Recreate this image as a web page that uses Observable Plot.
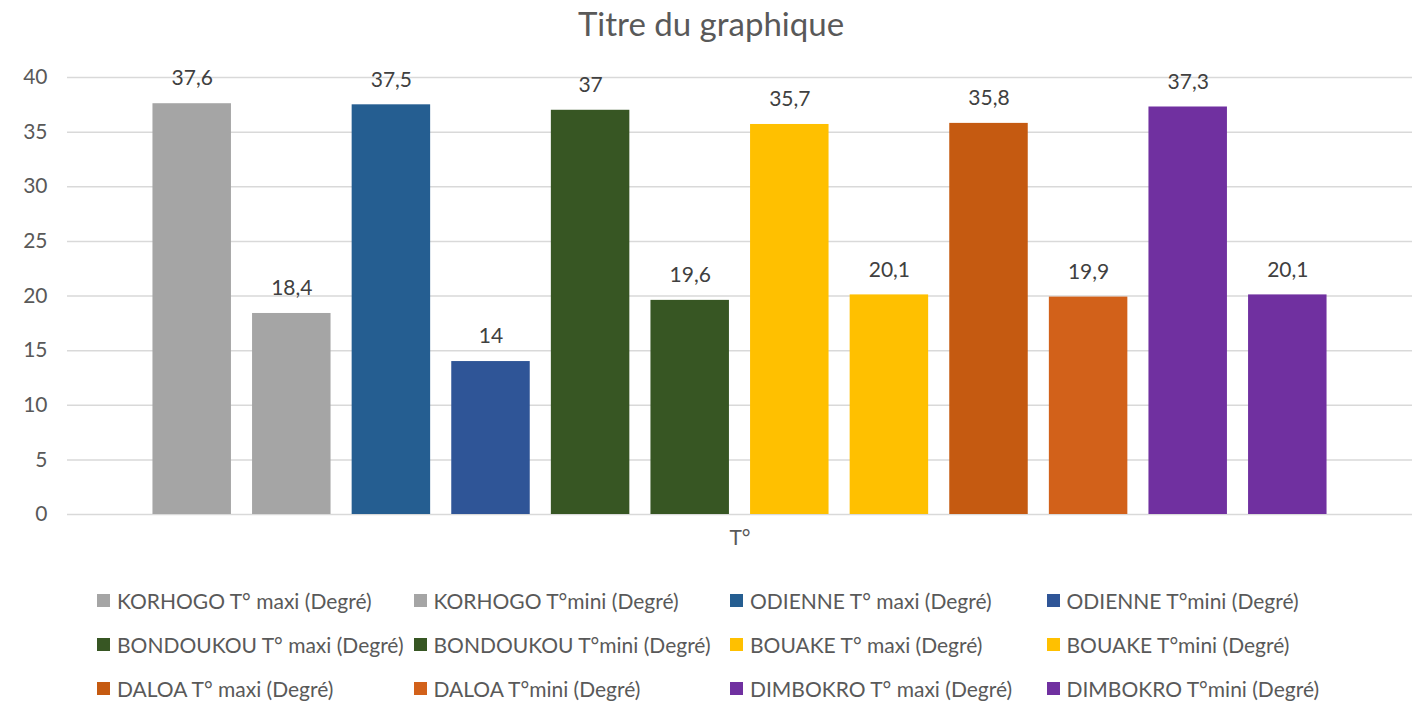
<!DOCTYPE html>
<html>
<head>
<meta charset="utf-8">
<script src="https://cdn.jsdelivr.net/npm/d3@7"></script>
<script src="https://cdn.jsdelivr.net/npm/@observablehq/plot@0.6"></script>
<style>
  html, body { margin: 0; padding: 0; background: #fff; }
  body { width: 1422px; height: 702px; overflow: hidden; font-family: Lato, "Open Sans", sans-serif; }
  #title { height: 50px; line-height: 46px; text-align: center; font-size: 33px; color: #595959; }
  #chart svg { display: block; }
  #legend { display: grid; grid-template-columns: repeat(4, 316.5px); padding-left: 97px; margin-top: 8px; }
  .item { height: 44px; display: flex; align-items: center; font-size: 21px; color: #595959; white-space: nowrap; }
  .sw { width: 13px; height: 13px; margin-right: 7px; flex: none; }
</style>
</head>
<body>
<div id="title">Titre du graphique</div>
<div id="chart"></div>
<div id="legend"></div>
<script>
const series = [
  "KORHOGO T° maxi (Degré)", "KORHOGO T°mini (Degré)",
  "ODIENNE T° maxi (Degré)", "ODIENNE T°mini (Degré)",
  "BONDOUKOU T° maxi (Degré)", "BONDOUKOU T°mini (Degré)",
  "BOUAKE T° maxi (Degré)", "BOUAKE T°mini (Degré)",
  "DALOA T° maxi (Degré)", "DALOA T°mini (Degré)",
  "DIMBOKRO T° maxi (Degré)", "DIMBOKRO T°mini (Degré)"
];
const values = [37.6, 18.4, 37.5, 14, 37, 19.6, 35.7, 20.1, 35.8, 19.9, 37.3, 20.1];
const colors = [
  "#a5a5a5", "#a5a5a5",
  "#255e91", "#2f5597",
  "#375623", "#375623",
  "#ffc000", "#ffc000",
  "#c55a11", "#d2611a",
  "#7030a0", "#7030a0"
];
const yTicks = [0, 5, 10, 15, 20, 25, 30, 35, 40];
const xTitle = "T°";

const data = series.map((s, i) => ({ name: s, value: values[i] }));
const fmt = v => String(v).replace(".", ",");

const chart = Plot.plot({
  width: 1422,
  height: 520,
  marginLeft: 67,
  marginRight: 10,
  marginTop: 27,
  marginBottom: 56,
  style: { fontFamily: "Lato, 'Open Sans', sans-serif", background: "#fff" },
  x: { domain: series, paddingInner: 0.212, paddingOuter: 0.858, round: false, axis: null },
  y: { domain: [0, 40], ticks: yTicks, tickSize: 0, label: null },
  color: { domain: series, range: colors },
  marks: [
    Plot.ruleY(yTicks, { stroke: "#d9d9d9", strokeWidth: 1.5 }),
    Plot.axisY({ ticks: yTicks, tickSize: 0, tickPadding: 20, fontSize: 21, color: "#595959", label: null, tickFormat: d => String(d) }),
    Plot.barY(data, { x: "name", y: "value", fill: "name" }),
    Plot.text(data, { x: "name", y: "value", text: d => fmt(d.value), dy: -25, fontSize: 21, fill: "#404040" }),
    Plot.text([xTitle], { frameAnchor: "bottom", dy: 30, fontSize: 21, fill: "#595959" })
  ]
});
document.getElementById("chart").appendChild(chart);

const legend = document.getElementById("legend");
series.forEach((s, i) => {
  const it = document.createElement("div");
  it.className = "item";
  const sw = document.createElement("span");
  sw.className = "sw";
  sw.style.background = colors[i];
  const tx = document.createElement("span");
  tx.textContent = s;
  it.appendChild(sw);
  it.appendChild(tx);
  legend.appendChild(it);
});
</script>
</body>
</html>
